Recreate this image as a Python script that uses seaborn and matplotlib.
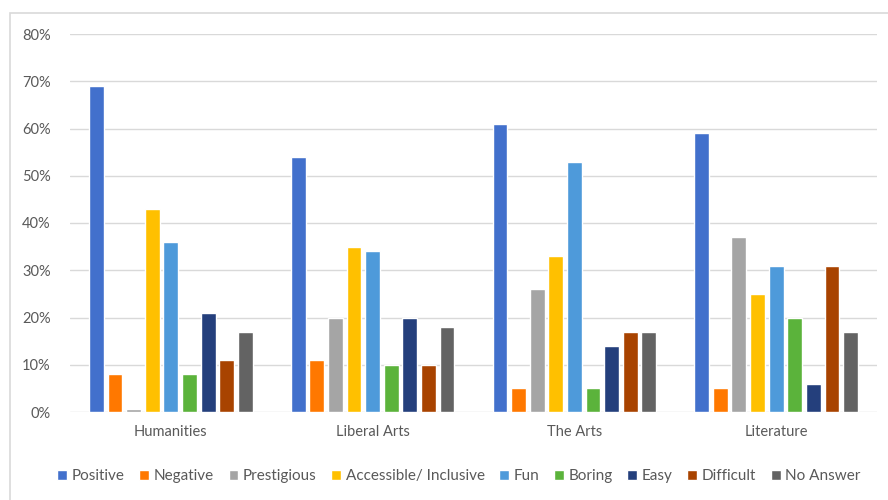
import matplotlib
matplotlib.use("Agg")
import matplotlib.pyplot as plt
import seaborn as sns
import pandas as pd
from matplotlib.patches import Rectangle
from matplotlib.ticker import PercentFormatter

categories = ["Humanities", "Liberal Arts", "The Arts", "Literature"]
series = ["Positive", "Negative", "Prestigious", "Accessible/ Inclusive", "Fun",
          "Boring", "Easy", "Difficult", "No Answer"]
positive = [0.69, 0.54, 0.61, 0.59]
negative = [0.08, 0.11, 0.05, 0.05]
prestigious = [0.006, 0.20, 0.26, 0.37]
accessible = [0.43, 0.35, 0.33, 0.25]
fun = [0.36, 0.34, 0.53, 0.31]
boring = [0.08, 0.10, 0.05, 0.20]
easy = [0.21, 0.20, 0.14, 0.06]
difficult = [0.11, 0.10, 0.17, 0.31]
no_answer = [0.17, 0.18, 0.17, 0.17]

colors = ["#4270CC", "#FF7800", "#A5A5A5", "#FFC000", "#4E9ADA",
          "#5BB33B", "#243F7C", "#A84300", "#636363"]

values = [positive, negative, prestigious, accessible, fun, boring, easy, difficult, no_answer]
rows = []
for s, vals in zip(series, values):
    for c, v in zip(categories, vals):
        rows.append({"Category": c, "Series": s, "Value": v})
df = pd.DataFrame(rows)

sns.set_theme(style="white")
plt.rcParams["font.family"] = ["Lato", "DejaVu Sans"]

fig = plt.figure(figsize=(8.88, 5), dpi=100)
ax = fig.add_axes([70/888, 1-412/500, (877-70)/888, (412-34)/500])

sns.barplot(data=df, x="Category", y="Value", hue="Series", order=categories,
            hue_order=series, palette=colors, width=0.83, gap=0.2,
            saturation=1, ax=ax, errorbar=None, legend=True)

ax.set_ylim(0, 0.8)
ax.set_yticks([i/10 for i in range(9)])
ax.yaxis.set_major_formatter(PercentFormatter(1.0, decimals=0))
ax.grid(axis="y", color="#D9D9D9", linewidth=1)
ax.set_axisbelow(True)
for sp in ax.spines.values():
    sp.set_visible(False)
ax.tick_params(axis="both", length=0, colors="#595959", labelsize=10.5)
ax.tick_params(axis="x", pad=9)
ax.tick_params(axis="y", pad=14)
ax.set_xlabel("")
ax.set_ylabel("")

handles, labels = ax.get_legend_handles_labels()
ax.get_legend().remove()
fig.legend(handles, labels, loc="center", bbox_to_anchor=(459/888, 1-476/500), ncol=9,
           frameon=False, fontsize=11, handlelength=0.65, handleheight=0.65,
           handletextpad=0.3, columnspacing=0.95, labelcolor="#595959")

fig.patches.append(Rectangle((10/888, -0.1), 1.0, 1-13/500+0.1, transform=fig.transFigure,
                             fill=False, edgecolor="#D9D9D9", linewidth=1.2))

fig.savefig("out.png", dpi=100)
